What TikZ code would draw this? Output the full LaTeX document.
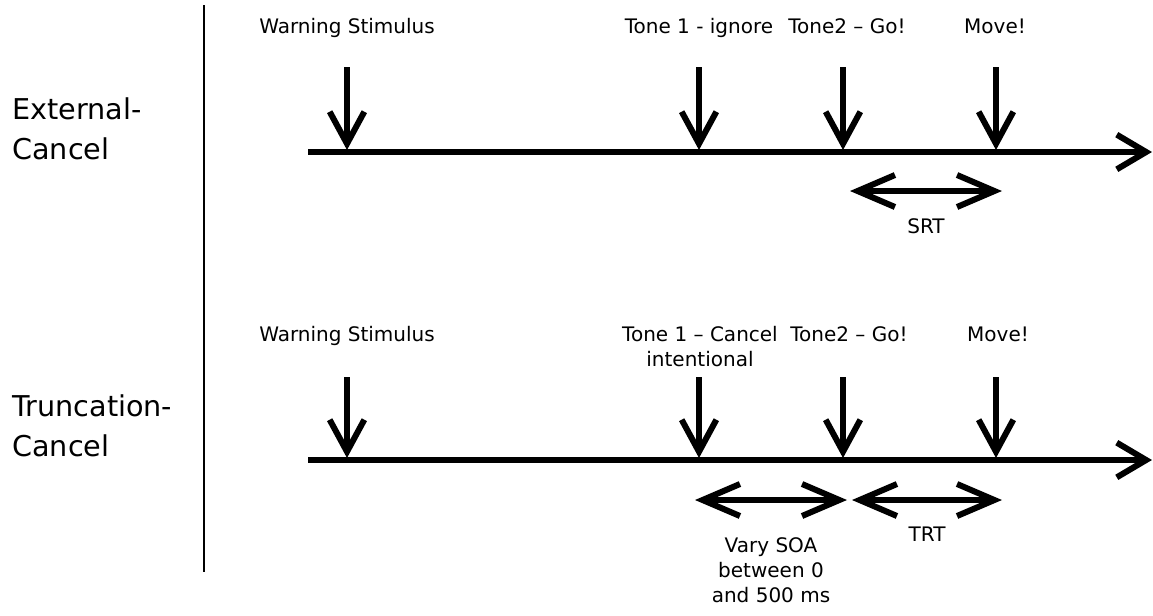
\documentclass[tikz,border=0pt]{standalone}
\usepackage{fontspec}
\setmainfont{DejaVu Sans}
\usetikzlibrary{arrows.meta}

\begin{document}
\begin{tikzpicture}[x=0.75pt, y=-0.75pt,
  every node/.style={inner sep=0pt, anchor=base, align=center, font=\fontsize{15}{18.5}\selectfont},
  side/.style={anchor=base west, align=left, font=\fontsize{21.5}{30}\selectfont},
  axis/.style={line width=4.5pt, -{Straight Barb[length=22pt, width=26pt]}},
  cue/.style={line width=4.5pt, -{Straight Barb[length=24pt, width=26pt]}},
  span/.style={line width=4.5pt, {Straight Barb[length=28pt, width=24pt]}-{Straight Barb[length=28pt, width=24pt]}}]
  \useasboundingbox (0,0) rectangle (1153,615);
  \node (ext) [side] at (12,159) {External-\\Cancel};
  \node (trc) [side] at (12,456) {Truncation-\\Cancel};
  \coordinate (d0) at (204,5);
  \coordinate (d1) at (204,572);
  \draw [line width=1.2pt] (d0) -- (d1);
  \node (ws1) at (347,33) {Warning Stimulus};
  \node (ta1) at (699,33) {Tone 1 - ignore};
  \node (tb1) at (847,33) {Tone2 -- Go!};
  \node (mv1) at (995,33) {Move!};
  \node (ws2) at (347,341) {Warning Stimulus};
  \node (ta2) at (700,366) {Tone 1 -- Cancel\\intentional};
  \node (tb2) at (849,341) {Tone2 -- Go!};
  \node (mv2) at (998,341) {Move!};
  \coordinate (s1) at (308,152);
  \coordinate (e1) at (1152,152);
  \coordinate (s2) at (308,460);
  \coordinate (e2) at (1152,460);
  \draw (s1) edge [axis] (e1);
  \draw (s2) edge [axis] (e2);
  \foreach \x [count=\i] in {347,699,843,996} {
    \coordinate (a\i) at (\x,67);
    \coordinate (b\i) at (\x,150);
    \coordinate (c\i) at (\x,377);
    \coordinate (f\i) at (\x,458);
    \draw (a\i) edge [cue] (b\i);
    \draw (c\i) edge [cue] (f\i);
  }
  \coordinate (r0) at (850,191);
  \coordinate (r1) at (1002,191);
  \draw (r0) edge [span] (r1);
  \node (srt) at (926,233) {SRT};
  \coordinate (q0) at (695,500);
  \coordinate (q1) at (847,500);
  \coordinate (q2) at (852,500);
  \coordinate (q3) at (1002,500);
  \draw (q0) edge [span] (q1);
  \draw (q2) edge [span] (q3);
  \node (trt) at (927,541) {TRT};
  \node (soa) at (771,602) {Vary SOA\\between 0\\and 500 ms};
\end{tikzpicture}
\end{document}
